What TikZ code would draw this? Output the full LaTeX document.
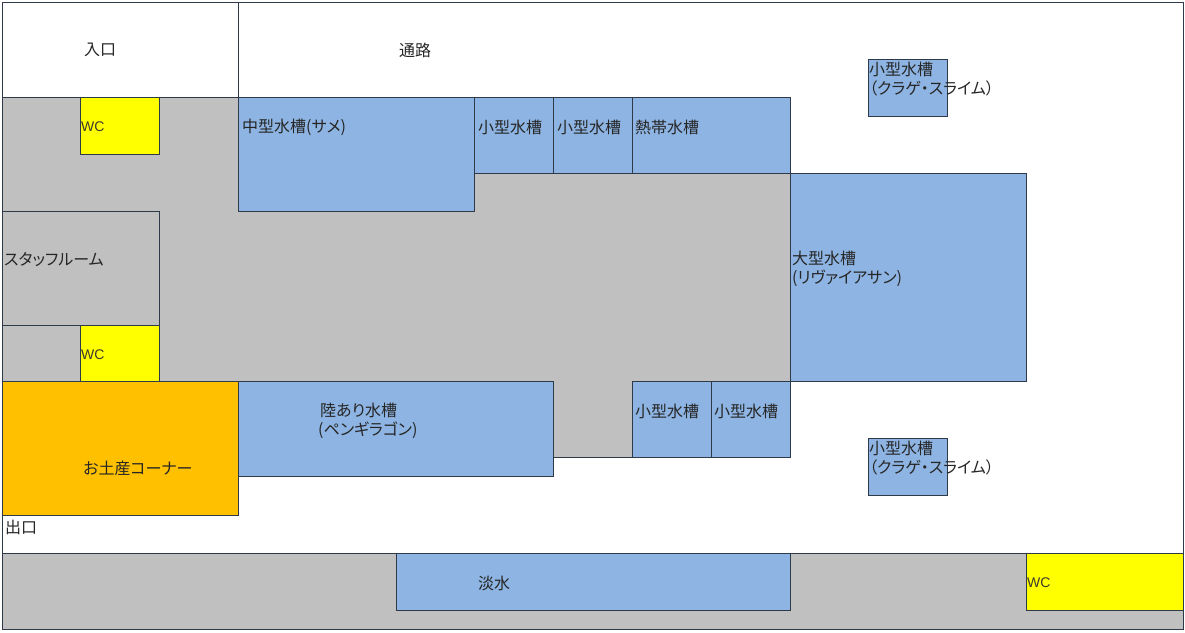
\documentclass[tikz,border=0pt]{standalone}
\usepackage{fontspec}
\setmainfont[RawFeature=+palt]{Noto Sans CJK JP}
\newfontfamily\wcfont{Liberation Sans}
\definecolor{floorgray}{HTML}{C0C0C0}
\definecolor{tankblue}{HTML}{8DB4E2}
\definecolor{wcyellow}{HTML}{FFFF00}
\definecolor{shoporange}{HTML}{FFC000}
\definecolor{wallline}{HTML}{2E3A48}
\begin{document}
\begin{tikzpicture}[x=1pt,y=-1pt]
	\path [use as bounding box] (0,0) rectangle (1185,632);
	\tikzstyle{room} = [draw=wallline, line width=1pt]
	\tikzstyle{floor} = [room, fill=floorgray]
	\tikzstyle{tank} = [room, fill=tankblue]
	\tikzstyle{wc} = [room, fill=wcyellow]
	\tikzstyle{shop} = [room, fill=shoporange]
	\tikzstyle{every node} = [anchor=west, inner sep=0pt, align=left, text=black!85, font=\fontsize{16}{19}\selectfont]
	\tikzstyle{wclabel} = [font=\wcfont\fontsize{14}{16}\selectfont, text=black!75!olive]
	% frame and floor
	\draw[room, fill=white] (2,2) rectangle (1183,629);
	\draw[room] (238,2) -- (238,97);
	\draw[floor] (2,97) -- (790,97) -- (790,457) -- (553,457) -- (553,381) -- (2,381) -- cycle;
	\draw[floor] (2,553) rectangle (1183,629);
	% rooms
	\draw[wc] (80,97) rectangle (159,154);
	\draw[floor] (2,211) rectangle (159,325);
	\draw[wc] (80,325) rectangle (159,381);
	\draw[shop] (2,381) rectangle (238,515);
	\draw[wc] (1026,553) rectangle (1183,610);
	% tanks
	\draw[tank] (238,97) rectangle (474,211);
	\draw[tank] (474,97) rectangle (553,173);
	\draw[tank] (553,97) rectangle (632,173);
	\draw[tank] (632,97) rectangle (790,173);
	\draw[tank] (790,173) rectangle (1026,381);
	\draw[tank] (238,381) rectangle (553,476);
	\draw[tank] (632,381) rectangle (711,457);
	\draw[tank] (711,381) rectangle (790,457);
	\draw[tank] (868,59) rectangle (947,116);
	\draw[tank] (868,438) rectangle (947,495);
	\draw[tank] (396,553) rectangle (790,610);
	% labels
	\node (entrance) at (84,50) {入口};
	\node (passage) at (399,50) {通路};
	\node (exit) at (5,527) {出口};
	\node[wclabel] (wcTop) at (81,127) {WC};
	\node[wclabel] (wcMid) at (81,355) {WC};
	\node[wclabel] (wcBottom) at (1027,583) {WC};
	\node (staff) at (4,260) {スタッフルーム};
	\node (shop) at (83,468) {お土産コーナー};
	\node (shark) at (242,127) {中型水槽(サメ)};
	\node (smallA) at (478,127) {小型水槽};
	\node (smallB) at (557,127) {小型水槽};
	\node (tropical) at (635,127) {熱帯水槽};
	\node (leviathan) at (792,269) {大型水槽\\(リヴァイアサン)};
	\node (penguin) at (318,421) {\hspace*{2pt}陸あり水槽\\(ペンギラゴン)};
	\node (smallC) at (635,411) {小型水槽};
	\node (smallD) at (714,411) {小型水槽};
	\node (jellyTop) at (869,79) {小型水槽\\（クラゲ・スライム）};
	\node (jellyBottom) at (869,458) {小型水槽\\（クラゲ・スライム）};
	\node (fresh) at (478,583) {淡水};
\end{tikzpicture}
\end{document}
